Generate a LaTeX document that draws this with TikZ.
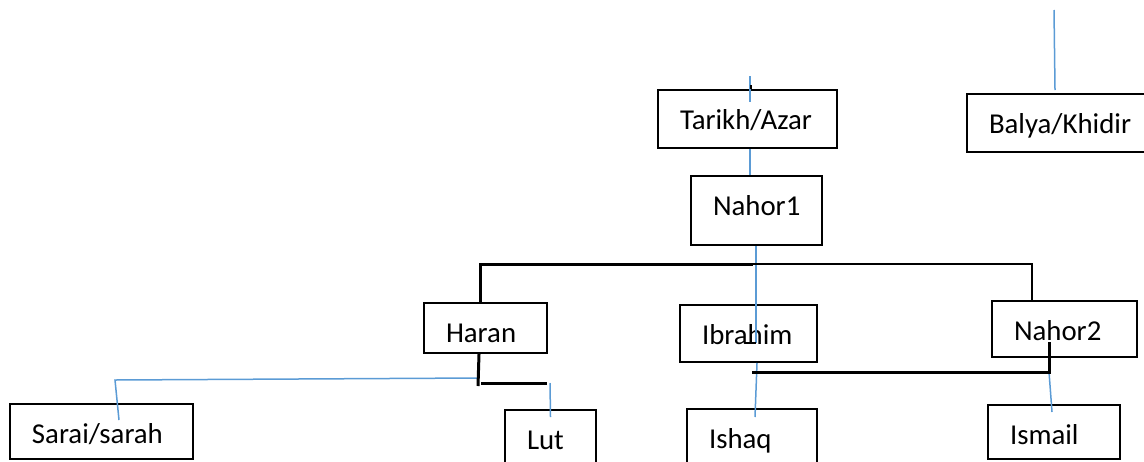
\documentclass[tikz,border=0pt]{standalone}
\usepackage{fontspec}
\setmainfont{Carlito}
\usepackage{xcolor}
\definecolor{linkblue}{HTML}{5B9BD5}

\begin{document}
\begin{tikzpicture}[x=0.5pt, y=-0.5pt,
  person/.style={draw, line width=1pt, anchor=north west, inner xsep=0pt,
    inner ysep=0pt, align=left, text height=19.5pt,
    font=\fontsize{14.4}{17}\selectfont,
    execute at begin node={\hspace*{11pt}}},
  link/.style={linkblue, line width=0.75pt},
  kin/.style={black, line width=1pt},
  kinthick/.style={black, line width=1.5pt}]
  \useasboundingbox (0,0) rectangle (1144,461);
  % Define nodes
  \node[person, text width=89.5pt, text depth=9.5pt] (tarikh) at (657,89) {Tarikh/Azar};
  \node[person, text width=65.5pt, text depth=15pt] (nahor1) at (690,175) {Nahor1};
  \node[person, text width=95pt, text depth=9.5pt] (balya) at (966,93) {Balya/Khidir};
  \node[person, text width=61.5pt, text depth=5.5pt] (haran) at (423,302) {Haran};
  \node[person, text width=68.5pt, text depth=9pt] (ibrahim) at (679,304) {Ibrahim};
  \node[person, text width=72.5pt, text depth=8.5pt] (nahor2) at (991,300) {Nahor2};
  \node[person, text width=91.5pt, text depth=8pt] (sarai) at (9,403) {Sarai/sarah};
  \node[person, text width=45.5pt, text depth=11.5pt] (lut) at (504,409) {Lut};
  \node[person, text width=65pt, text depth=11.5pt] (ishaq) at (686,408) {Ishaq};
  \node[person, text width=66pt, text depth=7.5pt] (ismail) at (987,404) {Ismail};
  % Free ends
  \coordinate (azarup) at (750,76);
  \coordinate (khidirup) at (1054,10);
  \coordinate (sibbar) at (753,264);
  \coordinate (ibrin) at (756,343);
  \coordinate (sonbar) at (752,372);
  \coordinate (nahor2foot) at (1049,342);
  \coordinate (haranfoot) at (478,386);
  \coordinate (sarajoin) at (115,380);
  % Blue links
  \draw[link] (azarup) -- ++(0,26);
  \draw[kin] ([xshift=0.5pt]azarup |- tarikh.north) -- ++(0,-4);
  \draw[link] (tarikh.south -| azarup) -- (nahor1.north -| azarup);
  \draw[link] (khidirup) -- ([xshift=-3.5pt,yshift=1.5pt]balya.north);
  \draw[link] ([xshift=-0.25pt]nahor1.south) -- (ibrin);
  \draw[kin] (ibrin) -- ++(-11,0);
  \draw[link] ([xshift=4.25pt]ibrahim.south) -- ([xshift=1.5pt,yshift=-4.5pt]ishaq.north);
  \draw[link] (sonbar -| nahor2foot) -- ([xshift=-1pt,yshift=-4pt]ismail.north);
  \draw[link] ([xshift=-0.25pt,yshift=13pt]lut.north) -- ([yshift=-4pt]lut.north);
  \draw[link] ([xshift=0.5pt,yshift=4pt]haranfoot) -- (sarajoin)
    -- ([xshift=8.75pt,yshift=-8.5pt]sarai.north);
  % Black family lines
  \draw[kinthick] ([xshift=-2.75pt]haran.north) |- (sibbar);
  \draw[kin] (sibbar) -| ([xshift=-16.25pt]nahor2.north);
  \draw[kinthick] ([xshift=-3.25pt]haran.south) -- (haranfoot);
  \draw[kinthick] ([xshift=1.5pt,yshift=1.5pt]haranfoot) -- ++(66,0);
  \draw[kinthick] (sonbar) -| (nahor2foot);
\end{tikzpicture}
\end{document}
